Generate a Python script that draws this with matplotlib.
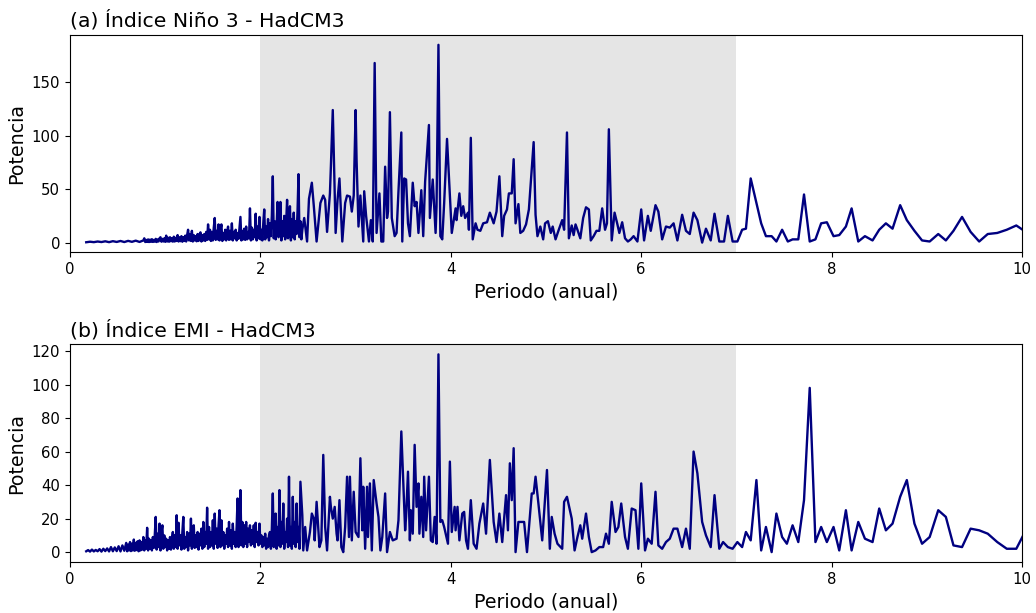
import matplotlib
matplotlib.use("Agg")
import matplotlib.pyplot as plt

# ---------------- (a) Niño 3 ----------------
# tramo de periodos cortos (muy denso)
a_per_bajo = [0.17, 0.21, 0.25, 0.29, 0.33, 0.37, 0.41, 0.45, 0.49, 0.53,
              0.57, 0.61, 0.65, 0.69, 0.73, 0.77]
a_pot_bajo = [0.3, 0.8, 0.4, 1.0, 0.5, 1.2, 0.4, 1.3, 0.6, 1.5,
              0.5, 1.6, 0.7, 1.8, 0.6, 2.0]

a_per_denso = [0.78, 0.79, 0.80, 0.81, 0.82, 0.83, 0.84, 0.85, 0.86, 0.87,
               0.88, 0.89, 0.90, 0.91, 0.92, 0.93, 0.94, 0.95, 0.96, 0.97,
               0.98, 0.99, 1.00, 1.01, 1.02, 1.03, 1.04, 1.05, 1.06, 1.07,
               1.08, 1.09, 1.10, 1.11, 1.12, 1.13, 1.14, 1.15, 1.16, 1.17,
               1.18, 1.19, 1.20, 1.21, 1.22, 1.23, 1.24, 1.25, 1.26, 1.27,
               1.28, 1.29, 1.30, 1.31, 1.32, 1.33, 1.34, 1.35, 1.36, 1.37,
               1.38, 1.39, 1.40, 1.41, 1.42, 1.43, 1.44, 1.45, 1.46, 1.47,
               1.48, 1.49, 1.50, 1.51, 1.52, 1.53, 1.54, 1.55, 1.56, 1.57,
               1.58, 1.59, 1.60, 1.61, 1.62, 1.63, 1.64, 1.65, 1.66, 1.67,
               1.68, 1.69, 1.70, 1.71, 1.72, 1.73, 1.74, 1.75, 1.76, 1.77,
               1.78, 1.79, 1.80, 1.81, 1.82, 1.83, 1.84, 1.85, 1.86, 1.87,
               1.88, 1.89, 1.90, 1.91, 1.92, 1.93, 1.94, 1.95, 1.96, 1.97,
               1.98, 1.99, 2.00, 2.01, 2.02, 2.03, 2.04, 2.05, 2.06, 2.07,
               2.08, 2.09, 2.10, 2.11, 2.12, 2.13, 2.14, 2.15, 2.16, 2.17,
               2.18, 2.19, 2.20, 2.21, 2.22, 2.23, 2.24, 2.25, 2.26, 2.27,
               2.28, 2.29, 2.30, 2.31, 2.32, 2.33, 2.34, 2.35, 2.36, 2.37,
               2.38, 2.39, 2.40, 2.41, 2.42, 2.43]
a_pot_denso = [4.0, 0.5, 2.5, 0.6, 3.0, 0.5, 2.8, 0.7, 3.2, 0.6,
               2.5, 0.8, 3.5, 0.5, 3.0, 1.0, 4.0, 5.0, 0.8, 3.5,
               1.0, 4.0, 0.7, 6.5, 1.0, 4.5, 0.8, 5.0, 1.2, 4.0,
               0.9, 5.5, 1.0, 4.5, 1.5, 7.0, 1.0, 5.0, 1.3, 6.0,
               0.8, 5.0, 1.5, 6.5, 1.0, 7.0, 12.0, 2.0, 8.0, 1.5,
               11.0, 1.0, 7.0, 2.0, 6.0, 1.2, 8.0, 1.5, 7.5, 9.6,
               1.0, 7.0, 2.0, 8.0, 1.5, 10.0, 2.5, 17.0, 3.0, 12.0,
               1.5, 10.0, 2.0, 14.0, 23.0, 2.5, 11.0, 3.0, 17.0, 2.0,
               12.0, 17.0, 1.5, 9.0, 3.0, 12.0, 2.0, 10.0, 15.0, 2.5,
               11.0, 3.0, 18.0, 2.0, 10.0, 4.0, 12.0, 2.0, 9.0, 3.5,
               14.0, 24.0, 2.0, 11.0, 3.0, 13.0, 2.5, 15.0, 3.0, 10.0,
               4.0, 32.0, 2.0, 14.0, 3.0, 12.0, 5.0, 27.0, 2.0, 15.0,
               4.0, 24.0, 3.0, 12, 2, 18, 31, 3, 15, 5,
               22, 2, 18, 6, 25, 62, 4, 20, 3, 15,
               38, 5, 12, 38, 2, 20, 6, 25, 3, 18,
               40, 4, 15, 34, 2, 22, 5, 28, 3, 20,
               8, 30, 64, 5, 20, 3]

a_per = [2.44, 2.46, 2.49, 2.51, 2.54, 2.56, 2.59, 2.63, 2.66, 2.68,
         2.70, 2.73, 2.74, 2.76, 2.77, 2.79, 2.81, 2.83, 2.86, 2.89,
         2.91, 2.94, 2.96, 2.98, 3.00, 3.01, 3.03, 3.05, 3.08, 3.09,
         3.11, 3.14, 3.16, 3.18, 3.20, 3.22, 3.25, 3.27, 3.29, 3.31,
         3.33, 3.34, 3.36, 3.38, 3.41, 3.43, 3.45, 3.48, 3.49, 3.51,
         3.53, 3.55, 3.57, 3.60, 3.62, 3.64, 3.66, 3.69, 3.71, 3.73,
         3.77, 3.78, 3.81, 3.84, 3.85, 3.87, 3.89, 3.91, 3.93, 3.96,
         3.98, 4.01, 4.05, 4.06, 4.09, 4.11, 4.13, 4.15, 4.18, 4.19,
         4.21, 4.23, 4.26, 4.28, 4.31, 4.34, 4.38, 4.41, 4.45, 4.48,
         4.51, 4.54, 4.56, 4.59, 4.61, 4.64, 4.66, 4.68, 4.71, 4.73,
         4.76, 4.79, 4.82, 4.87, 4.89, 4.91, 4.94, 4.97, 4.99, 5.02,
         5.05, 5.07, 5.10, 5.13, 5.17, 5.19, 5.22, 5.24, 5.27, 5.29,
         5.31, 5.33, 5.36, 5.39, 5.42, 5.45, 5.47, 5.50, 5.53, 5.56,
         5.59, 5.62, 5.64, 5.66, 5.69, 5.72, 5.75, 5.77, 5.80, 5.83,
         5.86, 5.89, 5.92, 5.96, 6.00, 6.03, 6.07, 6.10, 6.15, 6.18,
         6.22, 6.26, 6.30, 6.34, 6.38, 6.43, 6.47, 6.51, 6.55, 6.59,
         6.64, 6.68, 6.73, 6.77, 6.82, 6.87, 6.91, 6.96, 7.01, 7.06,
         7.10, 7.15, 7.21, 7.26, 7.31, 7.37, 7.42, 7.48, 7.54, 7.59,
         7.65, 7.71, 7.77, 7.83, 7.89, 7.95, 8.02, 8.08, 8.15, 8.21,
         8.28, 8.35, 8.43, 8.50, 8.57, 8.64, 8.72, 8.79, 8.87, 8.95,
         9.03, 9.12, 9.20, 9.28, 9.37, 9.46, 9.55, 9.64, 9.74, 9.84,
         9.94, 10.04]
a_pot = [12, 23, 1, 41, 56, 35, 1, 37, 44, 40,
         10, 46, 71, 124, 85, 9, 40, 60, 1, 37,
         44, 43, 29, 44, 124, 77, 15, 44, 1, 48,
         25, 1, 21, 1, 168, 9, 46, 1, 1, 71,
         23, 29, 122, 23, 6, 9, 48, 103, 1, 60,
         59, 18, 6, 56, 34, 38, 9, 49, 6, 57,
         110, 23, 59, 9, 34, 185, 6, 3, 37, 97,
         62, 9, 32, 21, 46, 25, 34, 23, 28, 12,
         98, 3, 18, 12, 11, 18, 19, 28, 18, 29,
         62, 6, 25, 31, 46, 46, 78, 18, 36, 9,
         11, 17, 31, 94, 26, 6, 15, 3, 18, 20,
         9, 15, 3, 11, 21, 12, 103, 4, 16, 7,
         17, 12, 4, 23, 33, 31, 2, 6, 11, 11,
         32, 12, 18, 106, 2, 28, 17, 9, 19, 4,
         1, 3, 6, 1, 31, 2, 25, 11, 35, 29,
         3, 15, 14, 18, 2, 26, 11, 8, 28, 21,
         0, 13, 2, 27, 1, 1, 25, 1, 1, 12,
         13, 60, 37, 18, 6, 6, 1, 12, 1, 3,
         3, 45, 1, 3, 18, 19, 6, 7, 15, 32,
         1, 6, 2, 12, 18, 13, 35, 21, 11, 2,
         1, 8, 2, 11, 24, 10, 1, 8, 9, 12,
         16, 10]

# ---------------- (b) EMI ----------------
b_per_bajo = [0.17, 0.19, 0.21, 0.23, 0.25, 0.27, 0.29, 0.31, 0.33, 0.35,
              0.37, 0.39, 0.41, 0.43, 0.45, 0.47, 0.49, 0.51, 0.53, 0.55,
              0.57, 0.59]
b_pot_bajo = [0.5, 1.2, 0.3, 1.5, 0.4, 1.3, 0.5, 1.8, 0.3, 2.0,
              0.6, 2.2, 0.4, 3.0, 0.5, 2.8, 0.6, 3.5, 0.4, 4.0,
              0.8, 5.5]

b_per_denso = [0.60, 0.61, 0.62, 0.63, 0.64, 0.65, 0.66, 0.67, 0.68, 0.69,
               0.70, 0.71, 0.72, 0.73, 0.74, 0.75, 0.76, 0.77, 0.78, 0.79,
               0.80, 0.81, 0.82, 0.83, 0.84, 0.85, 0.86, 0.87, 0.88, 0.89,
               0.90, 0.91, 0.92, 0.93, 0.94, 0.95, 0.96, 0.97, 0.98, 0.99,
               1.00, 1.01, 1.02, 1.03, 1.04, 1.05, 1.06, 1.07, 1.08, 1.09,
               1.10, 1.11, 1.12, 1.13, 1.14, 1.15, 1.16, 1.17, 1.18, 1.19,
               1.20, 1.21, 1.22, 1.23, 1.24, 1.25, 1.26, 1.27, 1.28, 1.29,
               1.30, 1.31, 1.32, 1.33, 1.34, 1.35, 1.36, 1.37, 1.38, 1.39,
               1.40, 1.41, 1.42, 1.43, 1.44, 1.45, 1.46, 1.47, 1.48, 1.49,
               1.50, 1.51, 1.52, 1.53, 1.54, 1.55, 1.56, 1.57, 1.58, 1.59,
               1.60, 1.61, 1.62, 1.63, 1.64, 1.65, 1.66, 1.67, 1.68, 1.69,
               1.70, 1.71, 1.72, 1.73, 1.74, 1.75, 1.76, 1.77, 1.78, 1.79,
               1.80, 1.81, 1.82, 1.83, 1.84, 1.85, 1.86, 1.87, 1.88, 1.89,
               1.90, 1.91, 1.92, 1.93, 1.94, 1.95, 1.96, 1.97, 1.98, 1.99,
               2.00, 2.01, 2.02, 2.03, 2.04, 2.05, 2.06, 2.07, 2.08, 2.09,
               2.10, 2.11, 2.12, 2.13, 2.14, 2.15, 2.16, 2.17, 2.18, 2.19,
               2.20, 2.21, 2.22, 2.23, 2.24, 2.25, 2.26, 2.27, 2.28, 2.29,
               2.30, 2.31, 2.32, 2.33, 2.34, 2.35, 2.36, 2.37, 2.38, 2.39,
               2.40, 2.41, 2.42]
b_pot_denso = [0.5, 4.5, 1.0, 6.0, 0.6, 5.0, 1.0, 7.5, 0.8, 5.5,
               1.2, 6.5, 0.5, 7.0, 1.0, 6.0, 1.5, 9.0, 1.0, 7.0,
               2.0, 14.5, 1.0, 8.0, 2.0, 7.0, 1.0, 9.0, 2.5, 10.0,
               21.0, 1.5, 11.0, 3.0, 17.0, 1.0, 12.0, 16.0, 2.0, 10.0,
               3.0, 8.0, 1.0, 7.0, 2.0, 9.0, 1.5, 8.0, 12.0, 2.0,
               10.0, 3.0, 22.0, 2.0, 17.5, 4.0, 10.0, 1.5, 12.0, 21.0,
               2.0, 9.0, 3.0, 12.0, 1.0, 11.0, 4.0, 20.0, 2.0, 13.0,
               16.0, 2.5, 10.0, 3.0, 12.0, 1.5, 11.0, 4.0, 14.0, 2.0,
               18.0, 3.0, 12.0, 5.0, 26.5, 2.0, 15.0, 3.0, 12.0, 4.0,
               19.0, 2.0, 23.0, 5.0, 14.0, 2.5, 16.0, 25.0, 3.0, 19.0,
               4.0, 12.0, 2.0, 10.0, 5.0, 14.0, 3.0, 18.0, 4.0, 13.0,
               2.0, 17.0, 5.0, 12.0, 3.0, 15.0, 32.0, 3.0, 14.0, 37.0,
               4.0, 18.0, 3.0, 16.0, 5.0, 18.0, 3.0, 14.0, 6.0, 16.0,
               4.0, 13.0, 5.0, 16.0, 3.0, 17.5, 6.0, 12.0, 4.0, 17.0,
               5.0, 10, 3, 9, 4, 11, 2, 8, 3, 10,
               12, 2, 14, 35, 3, 12, 23, 2, 15, 4,
               37, 3, 18, 5, 29, 2, 12, 6, 20, 3,
               45, 4, 15, 2, 33, 5, 18, 3, 29, 6,
               15, 2, 42]

b_per = [2.44, 2.45, 2.47, 2.49, 2.52, 2.54, 2.56, 2.57, 2.59, 2.62,
         2.64, 2.66, 2.68, 2.70, 2.73, 2.74, 2.76, 2.78, 2.80, 2.81,
         2.83, 2.85, 2.87, 2.89, 2.91, 2.93, 2.94, 2.96, 2.98, 3.00,
         3.01, 3.03, 3.05, 3.07, 3.08, 3.10, 3.12, 3.13, 3.15, 3.17,
         3.19, 3.22, 3.24, 3.26, 3.28, 3.31, 3.33, 3.36, 3.39, 3.43,
         3.45, 3.48, 3.50, 3.52, 3.53, 3.55, 3.57, 3.58, 3.60, 3.62,
         3.64, 3.66, 3.67, 3.69, 3.71, 3.72, 3.74, 3.77, 3.79, 3.81,
         3.83, 3.85, 3.87, 3.89, 3.91, 3.93, 3.97, 3.99, 4.01, 4.04,
         4.05, 4.07, 4.09, 4.12, 4.14, 4.16, 4.18, 4.21, 4.24, 4.27,
         4.30, 4.34, 4.37, 4.41, 4.45, 4.48, 4.51, 4.54, 4.58, 4.60,
         4.62, 4.64, 4.66, 4.68, 4.71, 4.74, 4.77, 4.80, 4.85, 4.87,
         4.89, 4.92, 4.96, 5.01, 5.04, 5.06, 5.09, 5.12, 5.17, 5.19,
         5.22, 5.27, 5.30, 5.33, 5.36, 5.38, 5.42, 5.45, 5.48, 5.52,
         5.56, 5.60, 5.63, 5.66, 5.69, 5.73, 5.76, 5.79, 5.83, 5.86,
         5.90, 5.94, 5.97, 6.00, 6.04, 6.07, 6.11, 6.15, 6.18, 6.22,
         6.26, 6.30, 6.34, 6.38, 6.43, 6.47, 6.51, 6.55, 6.59, 6.64,
         6.68, 6.73, 6.77, 6.82, 6.86, 6.91, 6.96, 7.01, 7.06, 7.10,
         7.15, 7.21, 7.26, 7.31, 7.37, 7.42, 7.48, 7.53, 7.59, 7.65,
         7.71, 7.77, 7.83, 7.89, 7.95, 8.02, 8.08, 8.15, 8.21, 8.28,
         8.35, 8.43, 8.50, 8.57, 8.64, 8.72, 8.79, 8.87, 8.95, 9.03,
         9.12, 9.20, 9.28, 9.37, 9.46, 9.55, 9.64, 9.74, 9.84, 9.94,
         10.04]
b_pot = [22, 1, 15, 1, 12, 23, 20, 7, 30, 3,
         7, 58, 15, 1, 33, 27, 20, 27, 11, 7,
         31, 3, 0, 15, 45, 9, 45, 7, 36, 12,
         11, 9, 56, 13, 39, 2, 39, 9, 41, 1,
         43, 29, 21, 1, 9, 35, 0, 12, 7, 8,
         19, 72, 43, 13, 21, 48, 7, 25, 11, 64,
         27, 41, 11, 33, 9, 45, 13, 45, 7, 6,
         21, 5, 118, 18, 19, 15, 5, 54, 12, 27,
         13, 27, 7, 23, 24, 7, 2, 31, 5, 2,
         17, 29, 11, 55, 18, 6, 23, 6, 34, 13,
         53, 31, 62, 0, 18, 18, 18, 0, 35, 35,
         45, 29, 7, 49, 2, 21, 11, 5, 2, 30,
         33, 20, 1, 9, 16, 8, 23, 9, 0, 1,
         3, 3, 11, 5, 30, 12, 15, 29, 9, 2,
         26, 25, 2, 41, 1, 8, 5, 36, 4, 2,
         6, 8, 14, 14, 3, 14, 2, 60, 47, 18,
         10, 3, 34, 2, 6, 3, 2, 6, 3, 12,
         7, 43, 1, 15, 0, 23, 9, 5, 16, 6,
         31, 98, 6, 15, 6, 15, 1, 25, 1, 18,
         8, 6, 26, 13, 17, 33, 43, 17, 5, 9,
         25, 21, 4, 3, 14, 13, 11, 6, 2, 2,
         13]

titulos = ['(a) Índice Niño 3 - HadCM3', '(b) Índice EMI - HadCM3']
banda = (2, 7)  # banda ENSO sombreada

paneles = [
    (a_per_bajo + a_per_denso + a_per, a_pot_bajo + a_pot_denso + a_pot),
    (b_per_bajo + b_per_denso + b_per, b_pot_bajo + b_pot_denso + b_pot),
]

fig, axs = plt.subplots(2, 1, figsize=(10.36, 6.13), dpi=100)
plt.subplots_adjust(left=0.0676, right=0.9865, top=0.943, bottom=0.0832, hspace=0.423)

for ax, (per, pot), tit in zip(axs, paneles, titulos):
    ax.axvspan(banda[0], banda[1], color='gray', alpha=0.2, lw=0)
    ax.plot(per, pot, color='navy', lw=1.7)
    ax.set_xlim(0, 10)
    ax.set_title(tit, loc='left', fontsize=14.7)
    ax.set_xlabel('Periodo (anual)', fontsize=13.7)
    ax.set_ylabel('Potencia', fontsize=13.7)
    ax.tick_params(labelsize=10.7)

axs[1].set_yticks([0, 20, 40, 60, 80, 100, 120])

plt.savefig('out.png', dpi=100)
